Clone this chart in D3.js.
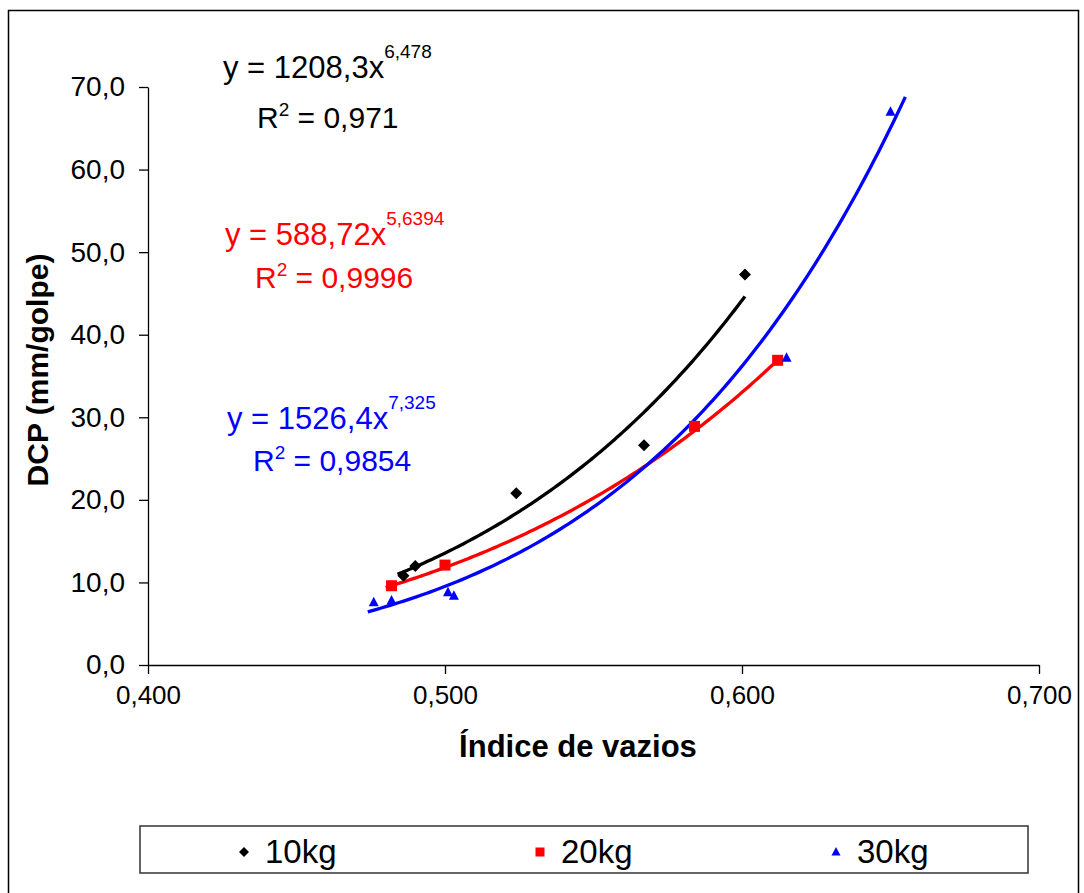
<!DOCTYPE html>
<html>
<head>
<meta charset="utf-8">
<script src="https://cdn.jsdelivr.net/npm/d3@7"></script>
<style>
  body { margin: 0; background: #fff; }
  text { font-family: Arial, 'Liberation Sans', sans-serif; }
</style>
</head>
<body>
<svg width="1084" height="893"></svg>
<script>
// data
const x10 = [0.486, 0.490, 0.524, 0.567, 0.601];
const y10 = [10.8, 12.0, 20.8, 26.6, 47.3];
const x20 = [0.482, 0.500, 0.584, 0.612];
const y20 = [9.6, 12.1, 28.9, 36.9];
const x30 = [0.476, 0.482, 0.501, 0.503, 0.615, 0.650];
const y30 = [7.6, 7.8, 8.8, 8.4, 37.2, 67.0];

// power trendlines y = a*x^b (coefficients from the labels)
const coefA = [1208.3, 588.72, 1526.4];
const coefB = [6.478, 5.6394, 7.325];
const trendFrom = [0.484, 0.480, 0.474];
const trendTo = [0.601, 0.612, 0.655];

const seriesNames = ['10kg', '20kg', '30kg'];
const colors = ['#000000', '#ff0000', '#0000ff'];
const eqTexts = ['y = 1208,3x', 'y = 588,72x', 'y = 1526,4x'];
const eqExps = ['6,478', '5,6394', '7,325'];
const r2Texts = ['= 0,971', '= 0,9996', '= 0,9854'];

const xTicks = [0.4, 0.5, 0.6, 0.7];
const yTicks = [0, 10, 20, 30, 40, 50, 60, 70];

const svg = d3.select('svg');
const fmt = v => v.toFixed(1).replace('.', ',');
const fmtX = v => v.toFixed(3).replace('.', ',');

const xScale = d3.scaleLinear().domain([0.4, 0.7]).range([148, 1039]);
const yScale = d3.scaleLinear().domain([0, 70]).range([665, 87]);

// outer border
svg.append('rect').attr('x', 8.5).attr('y', 10.5).attr('width', 1070).attr('height', 900)
  .attr('fill', 'none').attr('stroke', '#000').attr('stroke-width', 1.5);

// axes
const yAxis = svg.append('g').attr('transform', 'translate(148,0)')
  .call(d3.axisLeft(yScale).tickValues(yTicks).tickFormat(fmt).tickSizeOuter(0).tickSizeInner(9).tickPadding(14));
const xAxis = svg.append('g').attr('transform', 'translate(0,665)')
  .call(d3.axisBottom(xScale).tickValues(xTicks).tickFormat(fmtX).tickSizeOuter(0).tickSizeInner(9).tickPadding(12));
[yAxis, xAxis].forEach(a => {
  a.selectAll('path, line').attr('stroke', '#000').attr('stroke-width', 1.3);
  a.selectAll('text').attr('fill', '#000')
    .style('font-family', "Arial, 'Liberation Sans', sans-serif");
});
yAxis.selectAll('text').attr('font-size', 28);
xAxis.selectAll('text').attr('font-size', 26);

// axis titles
svg.append('text').attr('transform', 'translate(48,370) rotate(-90)')
  .attr('text-anchor', 'middle').attr('font-size', 30).attr('font-weight', 'bold')
  .text('DCP (mm/golpe)');
svg.append('text').attr('x', 578).attr('y', 757)
  .attr('text-anchor', 'middle').attr('font-size', 31).attr('font-weight', 'bold')
  .text('Índice de vazios');

// trendlines
const line = d3.line().x(d => xScale(d[0])).y(d => yScale(d[1])).curve(d3.curveLinear);
[0, 1, 2].forEach(i => {
  const n = 120;
  const pts = d3.range(n + 1).map(k => {
    const x = trendFrom[i] + (trendTo[i] - trendFrom[i]) * k / n;
    return [x, coefA[i] * Math.pow(x, coefB[i])];
  });
  svg.append('path').datum(pts).attr('d', line)
    .attr('fill', 'none').attr('stroke', colors[i]).attr('stroke-width', 3.3);
});

// markers
const shapes = [
  s => `M0,${-s}L${s},0L0,${s}L${-s},0Z`,
  s => `M${-s},${-s}H${s}V${s}H${-s}Z`,
  s => `M0,${-s * 1.1}L${s},${s * 0.8}L${-s},${s * 0.8}Z`
];
const sizes = [6, 5.5, 5];
const xs = [x10, x20, x30];
const ys = [y10, y20, y30];
[0, 1, 2].forEach(i => {
  svg.append('g').selectAll('path').data(xs[i].map((x, k) => [x, ys[i][k]]))
    .enter().append('path')
    .attr('d', shapes[i](sizes[i]))
    .attr('transform', d => `translate(${xScale(d[0])},${yScale(d[1])})`)
    .attr('fill', colors[i]);
});

// equation labels
const eqPos = [[223, 78, 257, 128], [225, 245, 255, 288], [227, 429, 253, 471]];
[0, 1, 2].forEach(i => {
  const p = eqPos[i];
  const t1 = svg.append('text').attr('x', p[0]).attr('y', p[1])
    .attr('font-size', 31).attr('fill', colors[i]);
  t1.append('tspan').text(eqTexts[i]);
  t1.append('tspan').attr('font-size', 19).attr('dy', -20).text(eqExps[i]);
  const t2 = svg.append('text').attr('x', p[2]).attr('y', p[3])
    .attr('font-size', 30).attr('fill', colors[i]);
  t2.append('tspan').text('R');
  t2.append('tspan').attr('font-size', 19).attr('dy', -12).text('2');
  t2.append('tspan').attr('dy', 12).text(' ' + r2Texts[i]);
});

// legend
svg.append('rect').attr('x', 140).attr('y', 826).attr('width', 888).attr('height', 47)
  .attr('fill', '#fff').attr('stroke', '#333').attr('stroke-width', 1.5);
const legX = [244, 540, 836];
const legSizes = [5, 4.5, 4.5];
[0, 1, 2].forEach(i => {
  svg.append('path').attr('d', shapes[i](legSizes[i]))
    .attr('transform', `translate(${legX[i]},852)`).attr('fill', colors[i]);
  svg.append('text').attr('x', legX[i] + 21).attr('y', 863)
    .attr('font-size', 33).attr('fill', '#000').text(seriesNames[i]);
});
</script>
</body>
</html>
